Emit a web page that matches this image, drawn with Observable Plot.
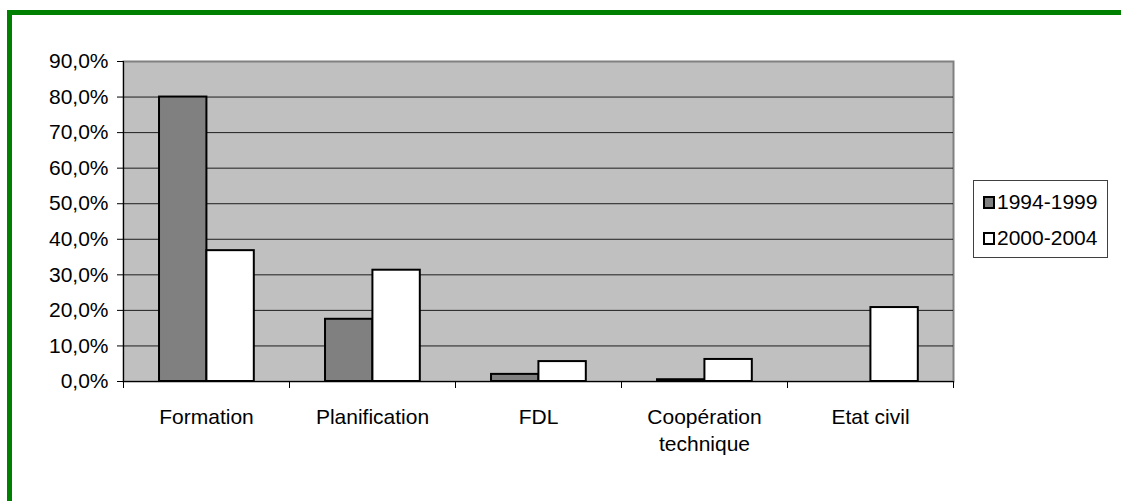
<!DOCTYPE html>
<html>
<head>
<meta charset="utf-8">
<script src="https://cdn.jsdelivr.net/npm/d3@7"></script>
<script src="https://cdn.jsdelivr.net/npm/@observablehq/plot@0.6"></script>
<style>
  html, body { margin: 0; padding: 0; background: #fff; }
  #wrap { position: relative; width: 1121px; height: 501px; overflow: hidden; font-family: "Liberation Sans", Arial, sans-serif; }
  #wrap svg.chart { position: absolute; left: 0; top: 0; }
  #border { position: absolute; left: 7px; top: 10px; right: -10px; bottom: -10px;
            border-top: 5px solid #008000; border-left: 5px solid #008000; pointer-events: none; }
  #legend { position: absolute; left: 973px; top: 180px; width: 133px; height: 76px;
            border: 1px solid #404040; background: #fff; box-sizing: content-box; }
  #legend .item { position: absolute; left: 9px; display: flex; align-items: center;
                  font-size: 21px; color: #000; letter-spacing: 0px; }
  #legend .sw { width: 8px; height: 9px; border: 2px solid #000; margin-right: 2px; }
</style>
</head>
<body>
<div id="wrap">
  <div id="border"></div>
</div>
<script>
// Categories, series and values (percent)
const categories = ["Formation", "Planification", "FDL", "Coopération technique", "Etat civil"];
const series = ["1994-1999", "2000-2004"];
const values1994 = [80.0, 17.5, 2.0, 0.5, 0];
const values2000 = [36.8, 31.3, 5.6, 6.2, 20.8];
const yTicks = [0, 10, 20, 30, 40, 50, 60, 70, 80, 90];
const seriesFill = ["#808080", "#ffffff"];

const rows1994 = categories.map((c, i) => ({category: c, value: values1994[i]}));
const rows2000 = categories.map((c, i) => ({category: c, value: values2000[i]}));

const W = 1121, H = 501;
const margin = {left: 123, right: 168, top: 61, bottom: 120};
const band = (W - margin.left - margin.right) / categories.length;
const gap = band * 0.217;           // space between band edge and the pair of bars
const barW = band * 0.2855;         // width of one bar

const fmt = d => d.toFixed(1).replace(".", ",") + "%";
const font = {fontSize: 21};

const chart = Plot.plot({
  width: W,
  height: H,
  marginLeft: margin.left,
  marginRight: margin.right,
  marginTop: margin.top,
  marginBottom: margin.bottom,
  style: {fontFamily: "'Liberation Sans', Arial, sans-serif", fontSize: "21px", color: "#000", background: "transparent"},
  x: {domain: categories, paddingInner: 0, paddingOuter: 0},
  y: {domain: [0, 90]},
  marks: [
    // plot area
    Plot.frame({fill: "#c0c0c0", stroke: "#808080", strokeWidth: 2}),
    Plot.gridY(yTicks.slice(1, -1), {stroke: "#000", strokeOpacity: 0.85, strokeWidth: 1}),
    // bars
    Plot.barY(rows1994, {x: "category", y: "value", fill: seriesFill[0], stroke: "#000", strokeWidth: 2,
      insetLeft: gap, insetRight: band - gap - barW}),
    Plot.barY(rows2000, {x: "category", y: "value", fill: seriesFill[1], stroke: "#000", strokeWidth: 2,
      insetLeft: gap + barW, insetRight: band - gap - 2 * barW}),
    // axis lines
    Plot.ruleX([categories[0]], {dx: -band / 2, stroke: "#000", strokeWidth: 1}),
    Plot.ruleY([0], {stroke: "#000", strokeWidth: 1}),
    Plot.axisY(yTicks, {tickSize: 6, tickPadding: 9, tickFormat: fmt, label: null, ...font, stroke: "#000"}),
    // category boundary ticks
    Plot.axisX(categories, {text: null, label: null, tickSize: 7, dx: -band / 2, stroke: "#000"}),
    Plot.axisX([categories[categories.length - 1]], {text: null, label: null, tickSize: 7, dx: band / 2, stroke: "#000"}),
    // category labels
    Plot.axisX(categories, {tickSize: 0, tickPadding: 23, label: null, lineWidth: 7, lineHeight: 1.3, ...font, fill: "#000"})
  ]
});
chart.classList.add("chart");
const wrap = document.getElementById("wrap");
wrap.insertBefore(chart, wrap.firstChild);

// legend
const legend = document.createElement("div");
legend.id = "legend";
series.forEach((s, i) => {
  const item = document.createElement("div");
  item.className = "item";
  item.style.top = (i * 36 + 9) + "px";
  const sw = document.createElement("span");
  sw.className = "sw";
  sw.style.background = seriesFill[i];
  item.appendChild(sw);
  item.appendChild(document.createTextNode(s));
  legend.appendChild(item);
});
wrap.appendChild(legend);
</script>
</body>
</html>
